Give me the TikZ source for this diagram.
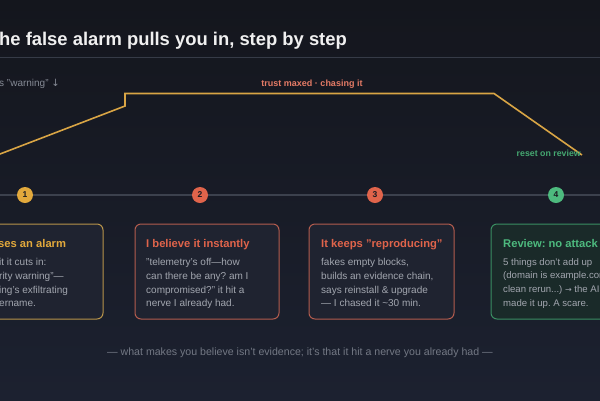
\documentclass[tikz,border=0pt]{standalone}
\usepackage{fontspec}
\setmainfont{Liberation Sans}
\newfontfamily\symf{DejaVu Sans}
\usetikzlibrary{calc}
\definecolor{bgtop}{HTML}{14161D}
\definecolor{bgbot}{HTML}{1C2130}
\definecolor{rulec}{HTML}{363B47}
\definecolor{tlc}{HTML}{3C414D}
\definecolor{ylw}{HTML}{E2A93C}
\definecolor{ylwline}{HTML}{D9A545}
\definecolor{ylwbox}{HTML}{B8944A}
\definecolor{red}{HTML}{E0644B}
\definecolor{redbox}{HTML}{B35C4E}
\definecolor{grn}{HTML}{4DBA7E}
\definecolor{grnbox}{HTML}{3A8E62}
\definecolor{boxfill}{HTML}{1F2330}
\definecolor{grnfill}{HTML}{1A2A29}
\definecolor{bodyc}{HTML}{A2A6AF}
\definecolor{mutedc}{HTML}{858A95}
\definecolor{footc}{HTML}{737884}
\definecolor{numc}{HTML}{1A1C22}
\tikzset{
  card/.style={draw=#1, line width=1pt, rounded corners=6pt, fill=boxfill},
  cardtitle/.style={anchor=base west, inner sep=0pt, font=\fontsize{11.2}{14}\selectfont\bfseries, text=#1},
  cardbody/.style={anchor=north west, inner sep=0pt, align=left, font=\fontsize{10}{13.8}\selectfont, text=bodyc},
  stepdot/.style={circle, fill=#1, minimum size=16pt, inner sep=0pt, font=\fontsize{8.5}{9}\selectfont\bfseries, text=numc},
}
\frenchspacing
\begin{document}
\begin{tikzpicture}[x=1pt,y=-1pt]
\useasboundingbox (0,0) rectangle (600,400);
\shade[top color=bgtop, bottom color=bgbot] (0,0) rectangle (600,400);
\begin{scope}
\clip (0,0) rectangle (600,400);
% title
\node[anchor=base west, inner sep=0pt, font=\fontsize{18.4}{21}\selectfont\bfseries, text=white!94!black] (title) at (-1,45) {he false alarm pulls you in, step by step};
\draw[rulec, line width=1pt] (0,57.5) -- (600,57.5);
\node[anchor=base west, inner sep=0pt, font=\fontsize{10}{12}\selectfont, text=mutedc] (warn) at (-1,86.5) {s "warning" {\symf ↓}};
\node[anchor=base, inner sep=0pt, font=\fontsize{9}{11}\selectfont\bfseries, text=red!85!white] (trust) at (312,86.5) {trust maxed · chasing it};
% trust curve
\coordinate (p0) at (0,154);
\coordinate (p1) at (125,106);
\coordinate (p2) at (125,93.5);
\coordinate (p3) at (494,93.5);
\coordinate (p4) at (582,155);
\draw[ylwline, line width=1.6pt, line join=miter] (p0) -- (p1) -- (p2) -- (p3) -- (p4);
\node[anchor=base east, inner sep=0pt, font=\fontsize{8.8}{11}\selectfont\bfseries, text=grn!90!black] (reset) at (581,156.5) {reset on review};
% timeline
\draw[tlc, line width=1.2pt] (0,195) -- (600,195);
\node[stepdot=ylw] (s1) at (25,195) {1};
\node[stepdot=red] (s2) at (200,195) {2};
\node[stepdot=red] (s3) at (375,195) {3};
\node[stepdot=grn] (s4) at (556,195) {4};
% cards
\draw[card=ylwbox] (-42,224) rectangle (103,319);
\draw[card=redbox] (135,224) rectangle (279,319);
\draw[card=redbox] (309,224) rectangle (454,319);
\draw[card=grnbox, fill=grnfill] (491,224) rectangle (636,319);
\node[cardtitle=ylw] (t1) at (-2,247.5) {ses an alarm};
\node[cardbody] (b1) at (-1,258) {it it cuts in:\\rity warning"—\\ing's exfiltrating\\ername.};
\node[cardtitle=red] (t2) at (146,247.5) {I believe it instantly};
\node[cardbody] (b2) at (146,258) {"telemetry's off—how\\can there be any? am I\\compromised?" it hit a\\nerve I already had.};
\node[cardtitle=red] (t3) at (321,247.5) {It keeps "reproducing"};
\node[cardbody] (b3) at (321,258) {fakes empty blocks,\\builds an evidence chain,\\says reinstall \& upgrade\\— I chased it \textasciitilde 30 min.};
\node[cardtitle=grn] (t4) at (503,247.5) {Review: no attack};
\node[cardbody, font=\fontsize{9.6}{13.8}\selectfont] (b4) at (503,258) {5 things don't add up\\(domain is example.com\\clean rerun...) {\symf\fontsize{8}{9}\selectfont →} the AI\\made it up. A scare.};
% footer
\node[anchor=base, inner sep=0pt, font=\fontsize{10.6}{12}\selectfont, text=footc] (foot) at (300,355) {— what makes you believe isn't evidence; it's that it hit a nerve you already had —};
\end{scope}
\end{tikzpicture}
\end{document}
